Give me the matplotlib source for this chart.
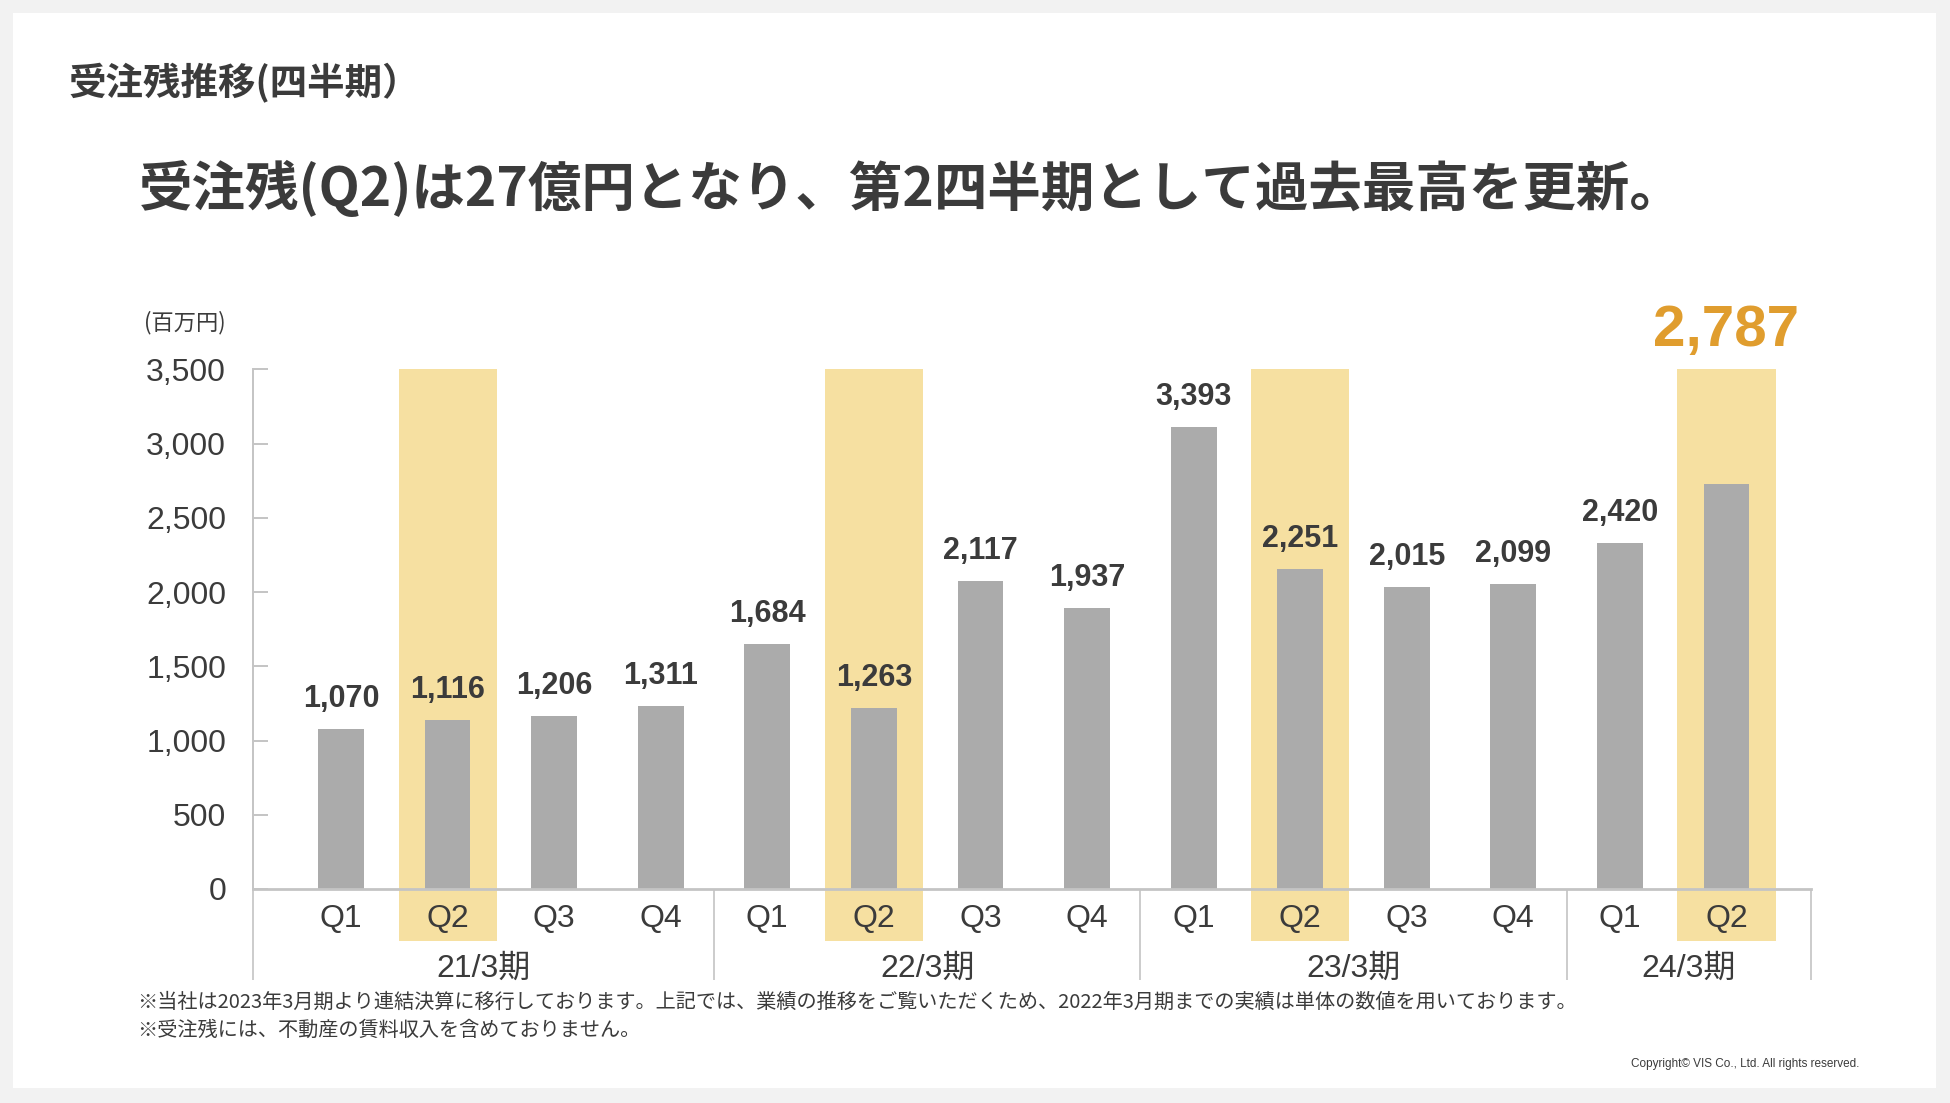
import matplotlib
matplotlib.use("Agg")
import matplotlib.pyplot as plt
from matplotlib.patches import Rectangle

plt.rcParams['font.family'] = ['Liberation Sans', 'Noto Sans CJK JP', 'DejaVu Sans']

# data
quarters = ['Q1', 'Q2', 'Q3', 'Q4', 'Q1', 'Q2', 'Q3', 'Q4',
            'Q1', 'Q2', 'Q3', 'Q4', 'Q1', 'Q2']
fiscal_years = ['21/3期', '22/3期', '23/3期', '24/3期']
group_sizes = [4, 4, 4, 2]
backlog = [1070, 1116, 1206, 1311, 1684, 1263, 2117, 1937,
           3393, 2251, 2015, 2099, 2420, 2787]
# bar heights as drawn on the slide (they do not follow the labels exactly)
bar_heights = [1076, 1138, 1167, 1233, 1650, 1217, 2075, 1891,
               3114, 2155, 2032, 2052, 2333, 2726]
y_ticks = [0, 500, 1000, 1500, 2000, 2500, 3000, 3500]

title = "受注残推移(四半期）"
headline = "受注残(Q2)は27億円となり、第2四半期として過去最高を更新。"
unit = "(百万円)"
notes = ["※当社は2023年3月期より連結決算に移行しております。上記では、業績の推移をご覧いただくため、2022年3月期までの実績は単体の数値を用いております。",
         "※受注残には、不動産の賃料収入を含めておりません。"]
copyright_txt = "Copyright© VIS Co., Ltd. All rights reserved."

TXT = '#3b3b3b'
GRAY = '#ababab'
HL = '#f6e0a1'
LINE = '#c4c4c4'
ORANGE = '#e09d2e'
JP = ['Noto Sans CJK JP', 'DejaVu Sans']

W, H = 1950, 1103
fig = plt.figure(figsize=(W / 100, H / 100), dpi=100, facecolor='#f2f2f2')
fig.patches.append(Rectangle((13 / W, 1 - 1088 / H), (1936 - 13) / W, (1088 - 13) / H,
                             transform=fig.transFigure, facecolor='white',
                             edgecolor='none', zorder=-5))

fig.text(68 / W, 1 - 83 / H, title, family=JP, fontsize=27, fontweight='bold',
         color=TXT, va='center', ha='left')
fig.text(139 / W, 1 - 189 / H, headline, family=JP, fontsize=38.5, fontweight='bold',
         color=TXT, va='center', ha='left')

ax = fig.add_axes([252.5 / W, 1 - 889 / H, (1810.7 - 252.5) / W, (889 - 369.3) / H])
ax.set_facecolor('none')
n = len(backlog)
x = list(range(n))
ax.set_xlim(-0.83, n - 1 + 0.79)
ax.set_ylim(0, 3500)

hl_bottom = -353
q2_idx = [i for i, q in enumerate(quarters) if q == 'Q2']
ax.bar(q2_idx, [3500 - hl_bottom] * len(q2_idx), bottom=hl_bottom, width=0.92,
       color=HL, zorder=0, clip_on=False)
ax.bar(x, bar_heights, width=0.43, color=GRAY, zorder=2)

# value labels
for i in range(n - 1):
    ax.annotate(f"{backlog[i]:,}", (i, bar_heights[i]), xytext=(0, 21.5),
                textcoords='offset points', ha='center', va='center',
                fontsize=22, fontweight='bold', color=TXT)
ax.text(n - 1, 3760, f"{backlog[-1]:,}", ha='center', va='center', fontsize=42,
        fontweight='bold', color=ORANGE, clip_on=False)

for s in ['top', 'right']:
    ax.spines[s].set_visible(False)
ax.spines['left'].set_color(LINE)
ax.spines['left'].set_linewidth(1.4)
ax.spines['bottom'].set_color(LINE)
ax.spines['bottom'].set_linewidth(2)
ax.spines['bottom'].set_zorder(3)

ax.set_yticks(y_ticks)
ax.set_yticklabels([f"{v:,}" for v in y_ticks])
ax.tick_params(axis='y', direction='in', length=11, width=1.4, color=LINE,
               labelsize=23, labelcolor=TXT, pad=19)
ax.set_xticks([])

# category labels under the axis
for i, q in enumerate(quarters):
    ax.text(i, -200, q, ha='center', va='center', fontsize=23, color=TXT)

seps = [ax.get_xlim()[0]]
pos = -0.5
for g in group_sizes:
    pos += g
    seps.append(pos)
seps[-1] = ax.get_xlim()[1]
ax.vlines(seps, -613, 0, color=LINE, linewidth=1.2, clip_on=False)
for k, fy in enumerate(fiscal_years):
    ax.text((seps[k] + seps[k + 1]) / 2, -538, fy, ha='center', va='center',
            fontsize=23, color=TXT)

fig.text(226 / W, 1 - 323 / H, unit, family=JP, fontsize=16, color=TXT,
         ha='right', va='center')
fig.text(137 / W, 1 - 1002 / H, notes[0], family=JP, fontsize=14.5, color=TXT,
         ha='left', va='center')
fig.text(137 / W, 1 - 1030 / H, notes[1], family=JP, fontsize=14.5, color=TXT,
         ha='left', va='center')
fig.text(1859 / W, 1 - 1064 / H, copyright_txt, fontsize=8.5, color=TXT,
         ha='right', va='center', family=['Liberation Sans Narrow', 'Liberation Sans'])

fig.savefig("out.png", dpi=100, facecolor=fig.get_facecolor())
